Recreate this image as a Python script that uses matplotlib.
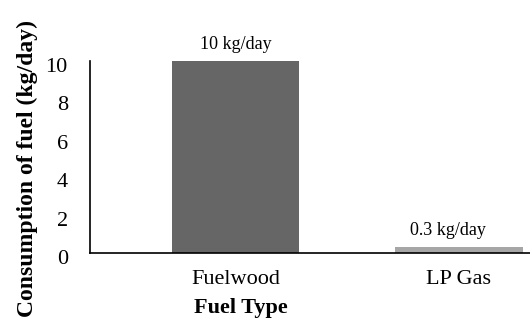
import matplotlib.pyplot as plt
from matplotlib.transforms import ScaledTranslation

plt.rcParams['font.family'] = ['Liberation Serif', 'DejaVu Serif']

fuel_types = ['Fuelwood', 'LP Gas']
consumption = [10, 0.3]
value_labels = ['10 kg/day', '0.3 kg/day']
bar_colors = ['#666666', '#a6a6a6']

fig = plt.figure(figsize=(5.3, 3.26), dpi=100)
ax = fig.add_axes([90 / 530, 73 / 326, 440 / 530, 192 / 326])

x = range(len(fuel_types))
bars = ax.bar(x, consumption, width=0.57, color=bar_colors)

# value labels sit a little above each bar
offsets = [(0, 6), (-8, 6)]
for bar, text, off in zip(bars, value_labels, offsets):
    ax.annotate(text, (bar.get_x() + bar.get_width() / 2, bar.get_height()),
                xytext=off, textcoords='offset points',
                ha='center', va='bottom', fontsize=13)

ax.set_xlim(-0.651, 1.318)
ax.set_ylim(0, 10.0)
ax.set_yticks(range(0, 11, 2))
ax.set_xticks(list(x))
ax.set_xticklabels(fuel_types, fontsize=16)
ax.tick_params(axis='y', labelsize=16, length=0, pad=16)
ax.tick_params(axis='x', length=0, pad=12)

# nudge the y tick labels down a touch
shift = ScaledTranslation(0, -4 / 100, fig.dpi_scale_trans)
for lbl in ax.get_yticklabels():
    lbl.set_transform(lbl.get_transform() + shift)

for side in ['top', 'right']:
    ax.spines[side].set_visible(False)
for side in ['left', 'bottom']:
    ax.spines[side].set_color('black')
    ax.spines[side].set_linewidth(1.2)

ax.set_xlabel('Fuel Type', fontsize=16, fontweight='bold', va='center')
ax.xaxis.set_label_coords(151 / 440, -55 / 192)
ax.set_ylabel('Consumption of fuel (kg/day)', fontsize=17, fontweight='bold',
              va='center')
ax.yaxis.set_label_coords(-63 / 440, 0.44)

fig.savefig('out.png', dpi=100)
